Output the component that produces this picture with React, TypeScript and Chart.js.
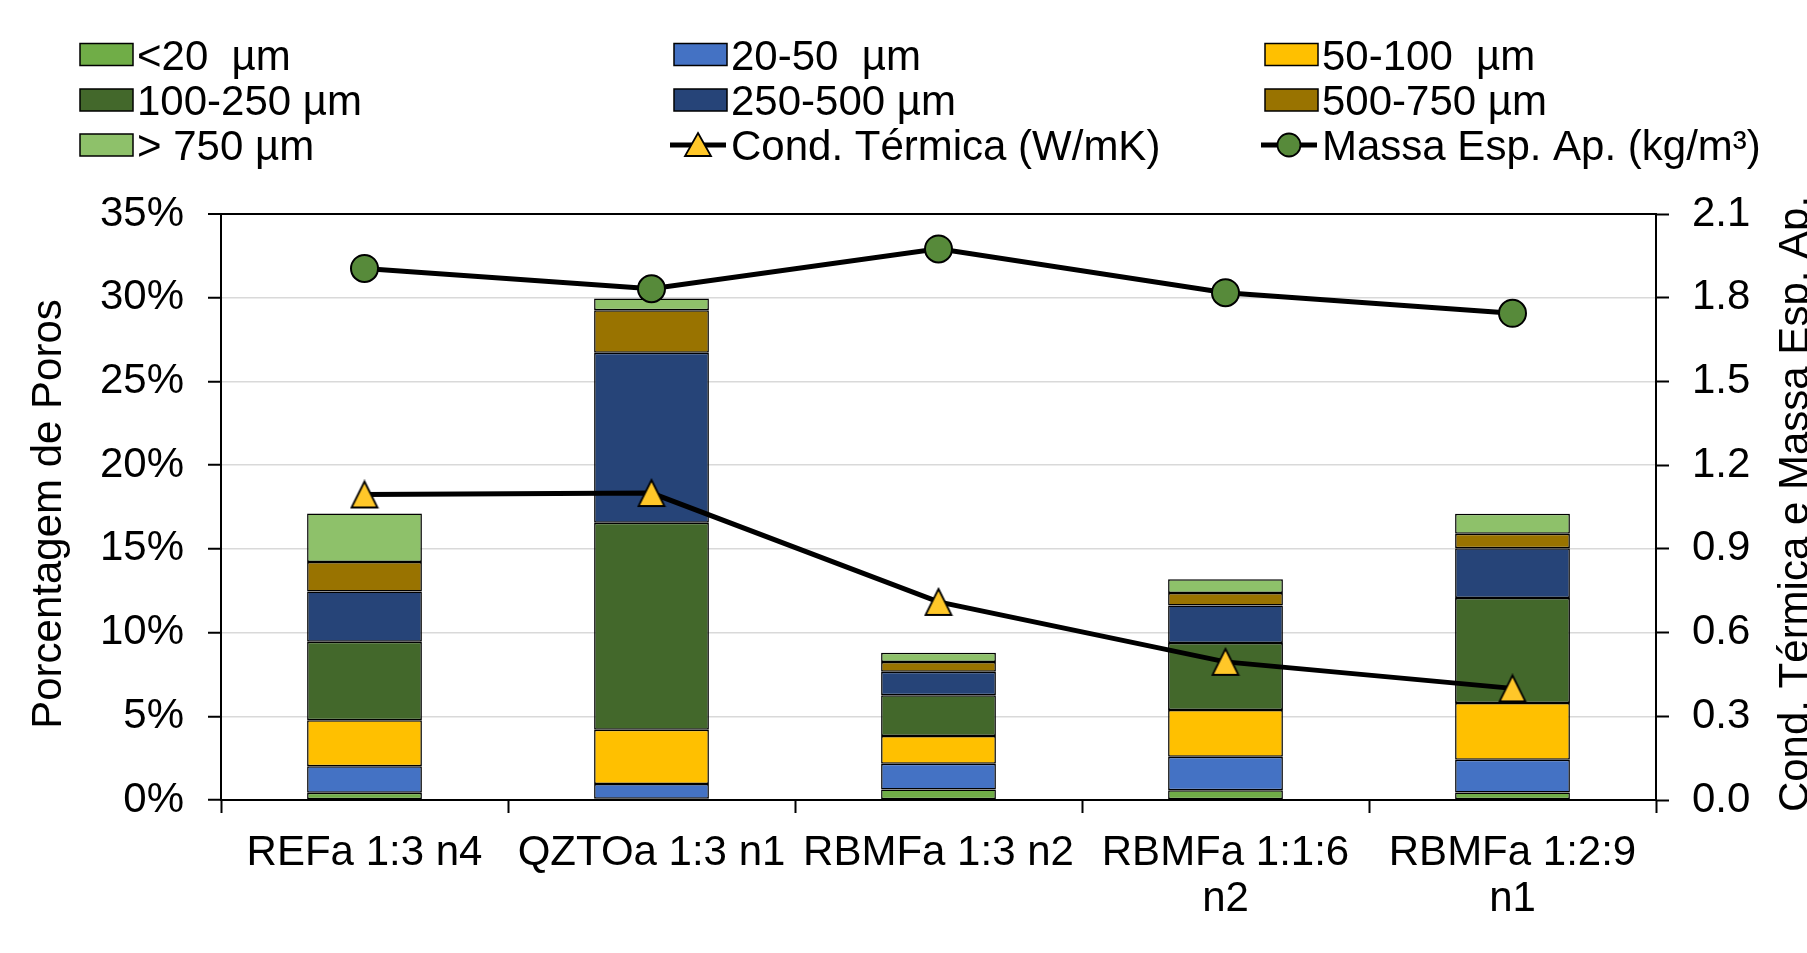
import React, { useEffect, useRef } from 'react';
import { Chart, registerables } from 'chart.js';
Chart.register(...registerables);

const categories: (string | string[])[] = [
  'REFa 1:3 n4',
  'QZTOa 1:3 n1',
  'RBMFa 1:3 n2',
  ['RBMFa 1:1:6', 'n2'],
  ['RBMFa 1:2:9', 'n1'],
];
const poreLabels = ['<20  µm', '20-50  µm', '50-100  µm', '100-250 µm', '250-500 µm', '500-750 µm', '> 750 µm'];
const poreColors = ['#70AD47', '#4472C4', '#FFC000', '#43682B', '#264478', '#997300', '#8EC16A'];
const pore_lt20 = [0.43, 0.08, 0.63, 0.58, 0.45];
const pore_20_50 = [1.58, 0.87, 1.53, 2.01, 1.96];
const pore_50_100 = [2.76, 3.25, 1.66, 2.79, 3.39];
const pore_100_250 = [4.68, 12.36, 2.44, 3.99, 6.26];
const pore_250_500 = [3.01, 10.15, 1.4, 2.24, 2.97];
const pore_500_750 = [1.76, 2.54, 0.58, 0.75, 0.87];
const pore_gt750 = [2.89, 0.7, 0.55, 0.83, 1.19];
const poreSeries = [pore_lt20, pore_20_50, pore_50_100, pore_100_250, pore_250_500, pore_500_750, pore_gt750];

const condLabel = 'Cond. Térmica (W/mK)';
const condTermica = [1.095, 1.1, 0.71, 0.495, 0.4];
const massaLabel = 'Massa Esp. Ap. (kg/m³)';
const massaEsp = [1.905, 1.832, 1.975, 1.818, 1.744];

const leftTicks = [0, 5, 10, 15, 20, 25, 30, 35];
const rightTicks = [0, 0.3, 0.6, 0.9, 1.2, 1.5, 1.8, 2.1];
const leftTitle = 'Porcentagem de Poros';
const rightTitle = 'Cond. Térmica e Massa Esp. Ap.';

const FONT = '"Liberation Sans", Arial, sans-serif';
const TRI_FILL = '#FFC729';
const CIRC_FILL = '#578A3A';

function makeTriangle(w: number, h: number): HTMLCanvasElement {
  const c = document.createElement('canvas');
  c.width = w + 4;
  c.height = h + 4;
  const g = c.getContext('2d')!;
  g.beginPath();
  g.moveTo(c.width / 2, 2);
  g.lineTo(c.width - 2, c.height - 2);
  g.lineTo(2, c.height - 2);
  g.closePath();
  g.fillStyle = TRI_FILL;
  g.fill();
  g.lineWidth = 1.8;
  g.strokeStyle = '#000';
  g.lineJoin = 'miter';
  g.stroke();
  return c;
}

const legendPlugin = {
  id: 'gridLegend',
  afterDraw(chart: any) {
    const ctx: CanvasRenderingContext2D = chart.ctx;
    const colX = [80, 674, 1265];
    const rowY = [54.5, 100, 145];
    ctx.save();
    chart.data.datasets.forEach((ds: any, i: number) => {
      const x = colX[i % 3];
      const y = rowY[Math.floor(i / 3)];
      if (ds.type === 'line') {
        ctx.strokeStyle = '#000';
        ctx.lineWidth = 5;
        ctx.beginPath();
        ctx.moveTo(x - 4, y);
        ctx.lineTo(x + 52, y);
        ctx.stroke();
        const cx = x + 24;
        ctx.lineWidth = 1.8;
        ctx.fillStyle = ds.pointBackgroundColor;
        ctx.beginPath();
        if (ds.legendShape === 'triangle') {
          ctx.moveTo(cx, y - 12);
          ctx.lineTo(cx + 13, y + 11);
          ctx.lineTo(cx - 13, y + 11);
          ctx.closePath();
        } else {
          ctx.ellipse(cx, y, 11.5, 11.5, 0, 0, Math.PI * 2);
        }
        ctx.fill();
        ctx.stroke();
      } else {
        ctx.fillStyle = ds.backgroundColor;
        ctx.fillRect(x, y - 11, 53, 22);
        ctx.strokeStyle = '#000';
        ctx.lineWidth = 1.5;
        ctx.strokeRect(x, y - 11, 53, 22);
      }
      ctx.fillStyle = '#000';
      ctx.font = `42px ${FONT}`;
      ctx.textAlign = 'left';
      ctx.textBaseline = 'alphabetic';
      ctx.fillText(ds.label, x + 57, y + 15);
    });
    ctx.restore();
  },
};

const titlesPlugin = {
  id: 'axisTitles',
  afterDraw(chart: any) {
    const ctx: CanvasRenderingContext2D = chart.ctx;
    const a = chart.chartArea;
    ctx.save();
    ctx.fillStyle = '#000';
    ctx.font = `42px ${FONT}`;
    ctx.textAlign = 'center';
    ctx.textBaseline = 'alphabetic';
    ctx.translate(61, 514);
    ctx.rotate(-Math.PI / 2);
    ctx.fillText(leftTitle, 0, 0);
    ctx.restore();
    ctx.save();
    ctx.fillStyle = '#000';
    ctx.font = `42px ${FONT}`;
    ctx.textAlign = 'center';
    ctx.textBaseline = 'alphabetic';
    ctx.translate(a.right + 152, 504);
    ctx.rotate(-Math.PI / 2);
    ctx.fillText(rightTitle, 0, 0);
    ctx.restore();
  },
};

export default function App() {
  const ref = useRef<HTMLCanvasElement>(null);
  useEffect(() => {
    document.body.style.margin = '0';
    document.body.style.overflow = 'hidden';
    const tri = makeTriangle(26, 26);
    const font = { family: FONT, size: 42, lineHeight: 1.1 };
    const barSets = poreSeries.map((d, i) => ({
      type: 'bar' as const,
      label: poreLabels[i],
      data: d,
      backgroundColor: poreColors[i],
      borderColor: '#000',
      borderWidth: 1.5,
      borderSkipped: false,
      yAxisID: 'y',
      order: 1,
      categoryPercentage: 1,
      barPercentage: 0.4,
    }));
    const chart = new Chart(ref.current!, {
      type: 'bar',
      data: {
        labels: categories,
        datasets: [
          ...barSets,
          {
            type: 'line',
            label: condLabel,
            data: condTermica,
            yAxisID: 'y2',
            borderColor: '#000',
            borderWidth: 5,
            pointStyle: tri,
            pointBackgroundColor: TRI_FILL,
            pointRadius: 14,
            order: 0,
            legendShape: 'triangle',
          } as any,
          {
            type: 'line',
            label: massaLabel,
            data: massaEsp,
            yAxisID: 'y2',
            borderColor: '#000',
            borderWidth: 5,
            pointStyle: 'circle',
            pointBackgroundColor: CIRC_FILL,
            pointBorderColor: '#000',
            pointBorderWidth: 2,
            pointRadius: 13.5,
            order: 0,
            legendShape: 'circle',
          } as any,
        ],
      },
      options: {
        responsive: false,
        animation: false,
        layout: { padding: { top: 214, left: 0, right: 0, bottom: 0 } },
        plugins: { legend: { display: false }, tooltip: { enabled: false } },
        scales: {
          x: {
            stacked: true,
            grid: {
              offset: true,
              drawOnChartArea: false,
              drawTicks: true,
              tickLength: 13,
              tickColor: '#000',
              tickWidth: 2,
            },
            border: { color: '#000', width: 2 },
            ticks: { font, color: '#000', padding: 17, maxRotation: 0, autoSkip: false },
            afterFit: (s: any) => {
              s.height = 153;
            },
          },
          y: {
            stacked: true,
            min: 0,
            max: 35,
            afterBuildTicks: (s: any) => {
              s.ticks = leftTicks.map((v) => ({ value: v }));
            },
            ticks: { font, color: '#000', padding: 24, callback: (v: any) => v + '%' },
            grid: {
              color: (c: any) => (c.tick && (c.tick.value === 35 || c.tick.value === 0) ? '#000' : '#D9D9D9'),
              lineWidth: (c: any) => (c.tick && c.tick.value === 35 ? 2 : 1.5),
              tickLength: 13,
              tickColor: '#000',
              tickWidth: 2,
            },
            border: { color: '#000', width: 2 },
            afterFit: (s: any) => {
              s.width = 221;
            },
          },
          y2: {
            position: 'right',
            min: 0,
            max: 2.1,
            afterBuildTicks: (s: any) => {
              s.ticks = rightTicks.map((v) => ({ value: v }));
            },
            ticks: { font, color: '#000', padding: 23, callback: (v: any) => Number(v).toFixed(1) },
            grid: { drawOnChartArea: false, tickLength: 13, tickColor: '#000', tickWidth: 2 },
            border: { color: '#000', width: 2 },
            afterFit: (s: any) => {
              s.width = 151;
            },
          },
        },
      } as any,
      plugins: [legendPlugin, titlesPlugin],
    });
    return () => chart.destroy();
  }, []);
  return <canvas ref={ref} width={1807} height={953} style={{ display: 'block' }} />;
}
